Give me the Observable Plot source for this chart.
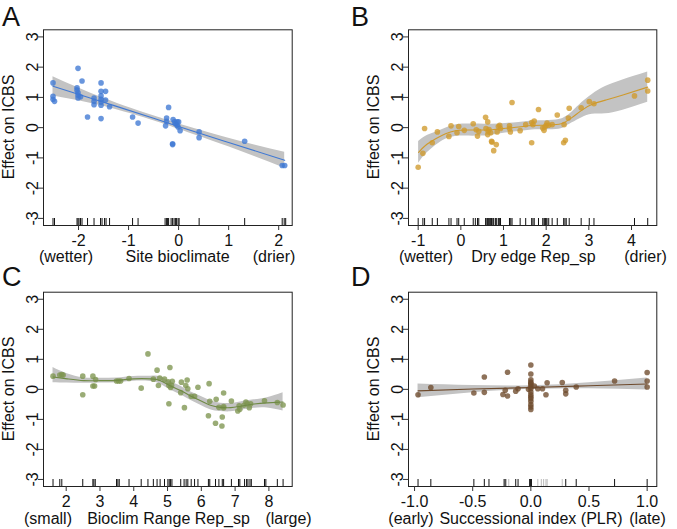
<!DOCTYPE html>
<html>
<head>
<meta charset="utf-8">
<script src="https://cdn.jsdelivr.net/npm/d3@7"></script>
<script src="https://cdn.jsdelivr.net/npm/@observablehq/plot@0.6"></script>
<style>
  html, body { margin: 0; padding: 0; background: #fff; }
  #fig { position: relative; width: 677px; height: 529px; font-family: "Liberation Sans", Arial, sans-serif; color: #111; overflow: hidden; }
  #fig svg { position: absolute; }
  .lbl { position: absolute; font-size: 16px; line-height: 16px; white-space: nowrap; transform: translateX(-50%); }
  .ylbl { position: absolute; font-size: 16px; line-height: 16px; white-space: nowrap; transform: translate(-50%, -50%) rotate(-90deg); }
  .tag { position: absolute; font-size: 27px; line-height: 27px; }
</style>
</head>
<body>
<div id="fig"></div>
<script>
// ---------- shared ----------
const yTicks = [-3, -2, -1, 0, 1, 2, 3];
const yLabel = "Effect on ICBS";

// ---------- Panel A: Site bioclimate ----------
const aPointX = [-2.51,-2.51,-2.51,-2.48,-2.01,-2.03,-2.03,-2.01,-2.01,-2.01,-1.96,-1.93,-1.82,-1.69,-1.69,-1.69,-1.55,-1.55,-1.55,-1.55,-1.55,-1.55,-1.55,-1.46,-1.46,-1.38,-0.92,-0.81,-0.20,-0.24,-0.24,-0.26,-0.12,-0.12,-0.11,-0.08,-0.06,-0.03,-0.03,-0.01,0.00,0.03,0.41,0.41,1.32,2.07,2.12];
const aPointY = [1.48,1.04,0.94,0.87,1.96,1.32,1.24,1.15,1.07,0.98,1.02,1.54,0.35,0.98,0.87,0.76,1.48,1.20,1.05,0.94,0.85,0.74,0.30,1.20,0.91,0.69,0.35,0.15,0.67,0.32,0.21,0.06,-0.53,-0.56,0.27,0.19,0.13,0.19,0.08,0.02,0.19,-0.10,-0.14,-0.33,-0.45,-1.25,-1.25];
const aRugX = [-2.51,-2.48,-2.03,-2.01,-1.99,-1.96,-1.93,-1.82,-1.69,-1.56,-1.53,-1.48,-1.45,-1.38,-0.92,-0.81,-0.27,-0.24,-0.22,-0.20,-0.15,-0.12,-0.09,-0.06,-0.04,-0.01,0.01,0.41,1.32,2.07,2.11,2.14];
const aFitX  = [-2.51,-1.5,-0.5,0,1,2.12];
const aFitY  = [1.37,0.84,0.31,0.04,-0.49,-1.08];
const aFitLo = [1.05,0.71,0.23,-0.05,-0.63,-1.34];
const aFitHi = [1.68,0.97,0.39,0.13,-0.35,-0.81];
const aXTicks = [-2,-1,0,1,2];

// ---------- Panel B: Dry edge Rep_sp ----------
const bPointX = [-1.00,-0.89,-0.85,-0.67,-0.55,-0.28,-0.23,-0.09,-0.05,0.08,0.29,0.36,0.39,0.42,0.58,0.63,0.59,0.64,0.63,0.66,0.70,0.72,0.73,0.77,0.83,0.85,0.88,0.91,0.93,1.14,1.16,1.14,1.20,1.39,1.52,1.66,1.66,1.72,1.69,1.82,1.92,1.95,1.97,2.00,2.02,2.06,2.14,2.26,2.41,2.45,2.42,2.52,2.54,2.82,3.01,3.12,4.07,4.38,4.38];
const bPointY = [-1.31,-0.85,-0.03,-0.50,-0.14,-0.29,0.06,-0.17,0.04,-0.09,0.13,-0.07,-0.28,-0.12,0.34,0.19,-0.03,-0.12,-0.23,-0.06,-0.17,-0.45,-0.48,-0.76,-0.56,-0.14,0.04,0.08,-0.03,0.06,-0.14,-0.03,0.83,-0.10,0.10,0.17,-0.50,0.22,0.10,0.60,-0.01,-0.09,0.02,0.08,0.15,0.08,0.10,0.42,-0.50,-0.42,0.10,0.32,0.64,0.66,0.86,0.79,1.05,1.57,1.21];
const bRugX = [-1.00,-0.89,-0.85,-0.67,-0.55,-0.28,-0.23,-0.09,-0.05,0.08,0.29,0.34,0.39,0.42,0.58,0.61,0.63,0.64,0.66,0.68,0.70,0.72,0.75,0.77,0.81,0.84,0.88,0.91,0.93,1.14,1.17,1.20,1.39,1.52,1.66,1.69,1.72,1.82,1.92,1.95,1.97,1.98,2.00,2.02,2.06,2.14,2.26,2.41,2.44,2.47,2.54,2.82,3.01,3.12,4.07,4.38];
const bFitX  = [-0.99,-0.83,-0.59,-0.36,-0.13,0.11,0.42,0.73,1.05,1.36,1.67,1.98,2.30,2.45,2.61,2.84,3.08,3.39,3.78,4.38];
const bFitY  = [-0.82,-0.59,-0.37,-0.20,-0.10,-0.08,-0.08,-0.07,-0.02,0.02,0.07,0.08,0.11,0.19,0.34,0.58,0.77,0.91,1.07,1.34];
const bFitLo = [-1.18,-0.89,-0.59,-0.38,-0.29,-0.28,-0.28,-0.25,-0.18,-0.13,-0.08,-0.07,-0.05,0.03,0.16,0.33,0.44,0.46,0.57,0.84];
const bFitHi = [-0.46,-0.29,-0.15,-0.02,0.09,0.12,0.12,0.11,0.14,0.17,0.22,0.23,0.27,0.35,0.52,0.83,1.10,1.36,1.57,1.84];
const bXTicks = [-1,0,1,2,3,4];

// ---------- Panel C: Bioclim Range Rep_sp ----------
const cPointX = [1.61,1.81,1.87,1.91,2.49,2.49,2.79,2.79,2.84,2.87,3.49,3.55,3.61,3.86,4.22,4.42,4.58,4.69,4.73,4.77,4.91,5.02,5.07,5.04,5.04,5.09,5.14,5.12,5.39,5.41,5.50,5.54,5.58,5.60,5.70,5.80,5.90,6.23,6.25,6.21,6.42,6.44,6.52,6.61,6.62,6.66,6.66,6.66,6.89,7.08,7.12,7.14,7.26,7.32,7.36,7.42,7.46,7.87,8.25,8.42];
const cPointY = [0.44,0.48,0.49,0.48,0.44,-0.18,0.44,0.11,0.11,0.33,0.28,0.28,0.28,0.36,0.04,1.18,0.34,0.64,0.13,0.38,0.34,0.25,0.73,-0.48,0.13,0.06,0.27,0.13,-0.11,0.24,-0.61,0.13,0.31,0.02,-0.23,-0.23,0.07,0.19,-0.40,-0.88,-1.13,-0.33,-0.60,-1.22,-0.92,-0.62,-0.12,-0.57,-0.39,-0.72,-0.55,-0.66,-0.53,-0.42,-0.48,-0.61,-0.48,-0.38,-0.44,-0.52];
const cRugX = [1.61,1.81,1.87,2.49,2.79,2.82,2.86,3.49,3.53,3.57,3.86,4.22,4.42,4.58,4.69,4.78,4.91,5.01,5.05,5.09,5.13,5.39,5.49,5.55,5.60,5.70,5.80,5.90,6.21,6.25,6.42,6.52,6.62,6.66,6.89,7.10,7.14,7.28,7.34,7.38,7.44,7.48,7.87,7.91,8.25,8.42];
const cFitX  = [1.61,2.03,2.52,3.02,3.51,4.00,4.50,4.79,5.09,5.39,5.68,5.98,6.27,6.57,6.87,7.16,7.56,7.95,8.42];
const cFitY  = [0.41,0.35,0.29,0.29,0.30,0.35,0.35,0.29,0.11,-0.04,-0.22,-0.38,-0.53,-0.60,-0.61,-0.56,-0.49,-0.45,-0.42];
const cFitLo = [0.22,0.21,0.20,0.21,0.22,0.27,0.26,0.17,-0.02,-0.18,-0.36,-0.53,-0.68,-0.74,-0.75,-0.70,-0.63,-0.62,-0.72];
const cFitHi = [0.73,0.52,0.38,0.37,0.38,0.43,0.44,0.42,0.25,0.10,-0.08,-0.23,-0.38,-0.46,-0.47,-0.42,-0.35,-0.28,-0.11];
const cXTicks = [2,3,4,5,6,7,8];

// ---------- Panel D: Successional index (PLR) ----------
const dPointX = [-0.97,-0.86,-0.49,-0.40,-0.40,-0.24,-0.22,-0.20,-0.20,-0.13,-0.11,0,0,0,0,0,0,-0.02,0,0,0,0,0,0,0,0,0,0,0.03,0.06,0.10,0.13,0.14,0.27,0.30,0.30,0.39,0.72,1.00,1.00,1.00];
const dPointY = [-0.18,0.06,-0.12,0.41,-0.10,-0.17,-0.03,0.57,-0.22,-0.06,0.02,0.81,0.51,0.32,0.24,0.15,0.08,0.00,0.02,-0.09,-0.18,-0.31,-0.51,-0.59,-0.67,-0.40,-0.25,0.20,0.11,0.02,0.02,-0.18,0.22,0.23,-0.03,-0.15,0.08,0.28,0.56,0.28,0.08];
const dRugX = [-0.97,-0.86,-0.49,-0.40,-0.36,-0.23,-0.22,-0.13,-0.11,-0.01,-0.005,0.00,0.005,0.30,0.39,0.72,1.00];
const dRugLightX = [-0.21,-0.19,0.06,0.09,0.11,0.13,0.14,0.27];
const dFitX  = [-0.97,-0.5,0,0.5,1.0];
const dFitY  = [-0.05,0.01,0.06,0.12,0.18];
const dFitLo = [-0.28,-0.11,0.00,0.02,-0.02];
const dFitHi = [0.18,0.13,0.12,0.22,0.38];
const dXTicks = [-1,-0.5,0,0.5,1];

// ---------- builder ----------
function panel(cfg) {
  const pts = cfg.px.map((x, i) => ({x, y: cfg.py[i]}));
  const band = cfg.fx.map((x, i) => ({x, fit: cfg.fy[i], lo: cfg.lo[i], hi: cfg.hi[i]}));
  const frameH = cfg.height - cfg.mt - cfg.mb;
  const marks = [
    Plot.areaY(band, {x: "x", y1: "lo", y2: "hi", fill: "#c3c3c3", curve: "natural"}),
    Plot.dot(pts, {x: "x", y: "y", r: 2.8, fill: cfg.color, fillOpacity: 0.78, stroke: "none"}),
    Plot.line(band, {x: "x", y: "fit", stroke: cfg.lineColor, strokeWidth: 1.1, curve: "natural"}),
    Plot.ruleX(cfg.rug, {stroke: "#111", strokeWidth: 1, insetTop: frameH - 7})
  ];
  if (cfg.rugLight) marks.push(Plot.ruleX(cfg.rugLight, {stroke: "#bbb", strokeWidth: 1, insetTop: frameH - 7}));
  marks.push(
    Plot.frame({stroke: "#222", strokeWidth: 1}),
    Plot.axisX({ticks: cfg.xTicks, tickSize: 5, tickPadding: 4, tickFormat: cfg.xFmt, label: null, fontSize: 16, stroke: "#333"}),
    Plot.axisY({ticks: yTicks, tickSize: 5, tickPadding: 1, tickRotate: -90, tickFormat: d => String(d), label: null, fontSize: 16, stroke: "#333"})
  );
  const svg = Plot.plot({
    width: cfg.width, height: cfg.height,
    marginLeft: cfg.ml, marginRight: cfg.mr, marginTop: cfg.mt, marginBottom: cfg.mb,
    x: {domain: cfg.xDomain},
    y: {domain: [-3.235, 3.235]},
    style: {fontFamily: "'Liberation Sans', Arial, sans-serif", fontSize: "16px", color: "#111", background: "transparent", overflow: "visible"},
    marks
  });
  svg.style.left = cfg.left + "px";
  svg.style.top = cfg.top + "px";
  return svg;
}

const fig = document.getElementById("fig");
const intFmt = d => String(d);
fig.appendChild(panel({left: 0, top: 0, width: 338, height: 264, ml: 43, mr: 46.3, mt: 29.3, mb: 39,
  px: aPointX, py: aPointY, rug: aRugX, fx: aFitX, fy: aFitY, lo: aFitLo, hi: aFitHi,
  xDomain: [-2.70, 2.27], xTicks: aXTicks, xFmt: intFmt, color: "#3f78d4", lineColor: "#3f78d4"}));
fig.appendChild(panel({left: 337, top: 0, width: 340, height: 264, ml: 71, mr: 20.7, mt: 29.3, mb: 39,
  px: bPointX, py: bPointY, rug: bRugX, fx: bFitX, fy: bFitY, lo: bFitLo, hi: bFitHi,
  xDomain: [-1.227, 4.593], xTicks: bXTicks, xFmt: intFmt, color: "#cf9a2c", lineColor: "#cf9a2c"}));
fig.appendChild(panel({left: 0, top: 265, width: 338, height: 264, ml: 43, mr: 46.3, mt: 26.7, mb: 43,
  px: cPointX, py: cPointY, rug: cRugX, fx: cFitX, fy: cFitY, lo: cFitLo, hi: cFitHi,
  xDomain: [1.328, 8.69], xTicks: cXTicks, xFmt: intFmt, color: "#7d9550", lineColor: "#6f8a45"}));
fig.appendChild(panel({left: 337, top: 265, width: 340, height: 264, ml: 71, mr: 20.7, mt: 26.7, mb: 43,
  px: dPointX, py: dPointY, rug: dRugX, rugLight: dRugLightX, fx: dFitX, fy: dFitY, lo: dFitLo, hi: dFitHi,
  xDomain: [-1.052, 1.083], xTicks: dXTicks, xFmt: d => d.toFixed(1), color: "#6e4a2c", lineColor: "#6e4a2c"}));

// ---------- text labels ----------
const labels = [
  {t: "A", cls: "tag", x: 2, y: 4},
  {t: "B", cls: "tag", x: 351, y: 4},
  {t: "C", cls: "tag", x: 2, y: 264},
  {t: "D", cls: "tag", x: 351, y: 264},
  {t: "(wetter)", cls: "lbl", x: 66, y: 249},
  {t: "Site bioclimate", cls: "lbl", x: 177.5, y: 249},
  {t: "(drier)", cls: "lbl", x: 274, y: 249},
  {t: "(wetter)", cls: "lbl", x: 426, y: 249},
  {t: "Dry edge Rep_sp", cls: "lbl", x: 533.5, y: 249},
  {t: "(drier)", cls: "lbl", x: 645.5, y: 249},
  {t: "(small)", cls: "lbl", x: 48, y: 511},
  {t: "Bioclim Range Rep_sp", cls: "lbl", x: 168.5, y: 511},
  {t: "(large)", cls: "lbl", x: 288.5, y: 511},
  {t: "(early)", cls: "lbl", x: 411, y: 511},
  {t: "Successional index (PLR)", cls: "lbl", x: 531, y: 511},
  {t: "(late)", cls: "lbl", x: 647.5, y: 511},
  {t: yLabel, cls: "ylbl", x: 9, y: 127},
  {t: yLabel, cls: "ylbl", x: 373.5, y: 127},
  {t: yLabel, cls: "ylbl", x: 9, y: 389},
  {t: yLabel, cls: "ylbl", x: 373.5, y: 389}
];
for (const l of labels) {
  const d = document.createElement("div");
  d.className = l.cls;
  d.textContent = l.t;
  d.style.left = l.x + "px";
  d.style.top = l.y + "px";
  fig.appendChild(d);
}
</script>
</body>
</html>
